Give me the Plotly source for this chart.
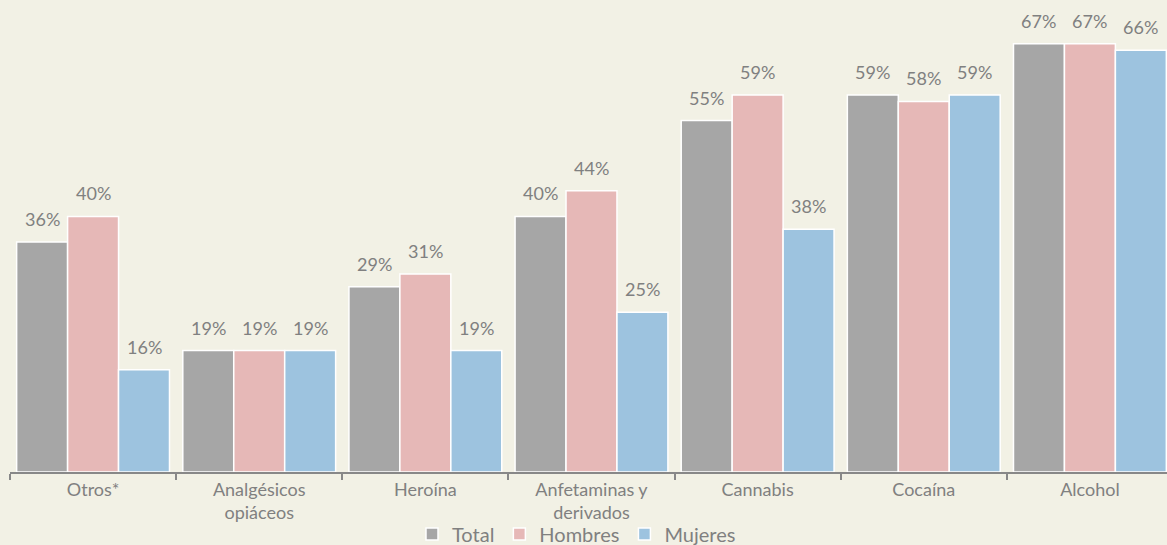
import plotly.graph_objects as go

# Share of users per substance, by sex (percent)
categories = ["Otros*", "Analgésicos<br>opiáceos", "Heroína", "Anfetaminas y<br>derivados",
              "Cannabis", "Cocaína", "Alcohol"]
total = [36, 19, 29, 40, 55, 59, 67]
hombres = [40, 19, 31, 44, 59, 58, 67]
mujeres = [16, 19, 19, 25, 38, 59, 66]

series = [("Total", total, "#a6a6a6"),
          ("Hombres", hombres, "#e6b8b7"),
          ("Mujeres", mujeres, "#9dc3df")]

text_color = "#808080"
font_family = "Lato"
bargap = 0.08
bar_w = (1 - bargap) / len(series)

fig = go.Figure()
annotations = []
for k, (name, vals, color) in enumerate(series):
    fig.add_trace(go.Bar(
        name=name, x=categories, y=vals,
        marker=dict(color=color, line=dict(color="white", width=1.5)),
        hoverinfo="skip",
    ))
    for i, v in enumerate(vals):
        annotations.append(dict(
            x=i + (k - 1) * bar_w, y=v, xref="x", yref="y",
            text=f"{v}%", showarrow=False, yanchor="middle", yshift=23,
            font=dict(family=font_family, size=18, color=text_color),
        ))

bg = "#f2f1e5"
plot_h = 545 - 20 - 73
fig.update_layout(
    width=1167, height=545,
    margin=dict(l=10, r=0, t=20, b=73, autoexpand=False),
    paper_bgcolor=bg, plot_bgcolor=bg,
    barmode="group", bargap=bargap, bargroupgap=0,
    font=dict(family=font_family, size=18, color=text_color),
    annotations=annotations,
    showlegend=True,
    legend=dict(orientation="h", x=0.494, xanchor="center", xref="container",
                y=-62 / plot_h, yanchor="middle", yref="paper",
                font=dict(size=20, color=text_color),
                bgcolor="rgba(0,0,0,0)", itemwidth=30),
    xaxis=dict(type="category", range=[-0.5, 6.464], showline=True, automargin=False,
               linecolor="#888888", linewidth=2, ticks="outside", tickson="boundaries",
               ticklen=6, tickwidth=2, tickcolor="#888888", showgrid=False,
               ticklabelstandoff=0,
               tickfont=dict(size=18, color=text_color)),
    yaxis=dict(range=[0, plot_h / 6.39], visible=False, showgrid=False, zeroline=False),
)

fig.write_html("out.html")
